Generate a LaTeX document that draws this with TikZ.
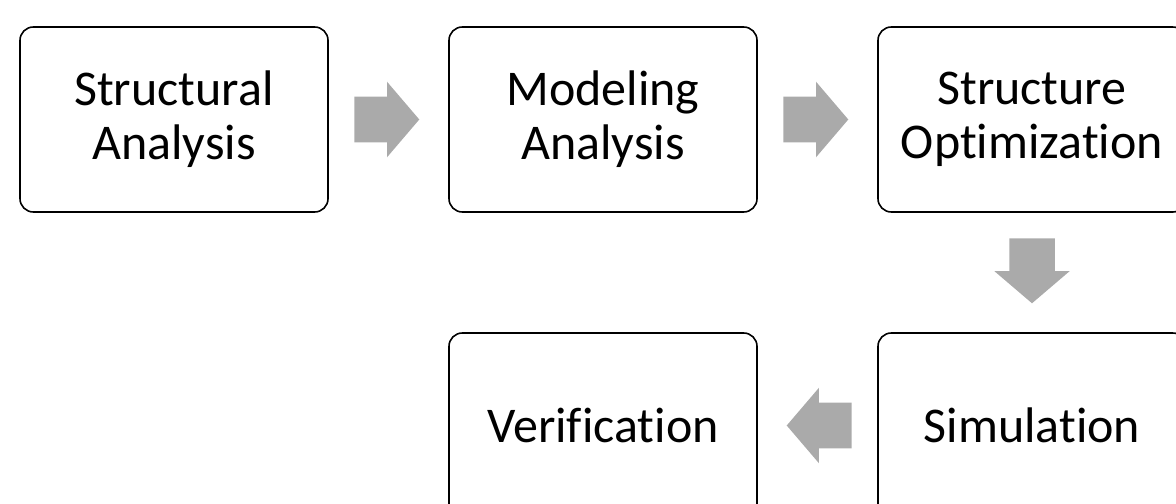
\documentclass[tikz,border=0pt]{standalone}
\usepackage{fontspec}
\setmainfont{Carlito}[Ligatures={NoCommon}]
\usetikzlibrary{positioning,shapes.arrows,calc}
\definecolor{arrowgray}{RGB}{170,170,170}

\tikzset{
  stage/.style={draw, line width=1.2pt, rounded corners=10pt, outer sep=0pt,
    minimum width=231pt, minimum height=138.75pt, align=center,
    font=\fontsize{37.5}{40.5}\selectfont},
  flow/.style={single arrow, fill=arrowgray, draw=none, inner sep=0pt,
    inner ysep=16.875pt, minimum height=48.75pt, anchor=tail,
    single arrow head extend=11.25pt, single arrow tip angle=99,
    single arrow head indent=0pt}
}

\begin{document}
\begin{tikzpicture}[x=0.75pt,y=-0.75pt,node distance=90.75pt]
    \useasboundingbox (0,0) rectangle (1176,503);
    \clip (0,0) rectangle (1176,503);

    \node[stage] (structural) at (174,119.5) {Structural\\Analysis};
    \node[stage, right=of structural] (modeling) {Modeling\\Analysis};
    \node[stage, right=of modeling] (optimization) {Structure\\Optimization};
    \node[stage, below=of optimization] (simulation) {Simulation};
    \node[stage, left=of simulation] (verification) {Verification};

    % block arrows, tail a fifth of the way across each gap
    \node[flow] (toModeling) at ($(structural.east)!0.215!(modeling.west)$) {};
    \node[flow] (toOptimization) at ($(modeling.east)!0.215!(optimization.west)$) {};
    \node[flow, rotate=-90] (toSimulation) at ($(optimization.south)!0.215!(simulation.north)$) {};
    \node[flow, rotate=180] (toVerification) at ($(simulation.west)!0.215!(verification.east)$) {};
\end{tikzpicture}
\end{document}
